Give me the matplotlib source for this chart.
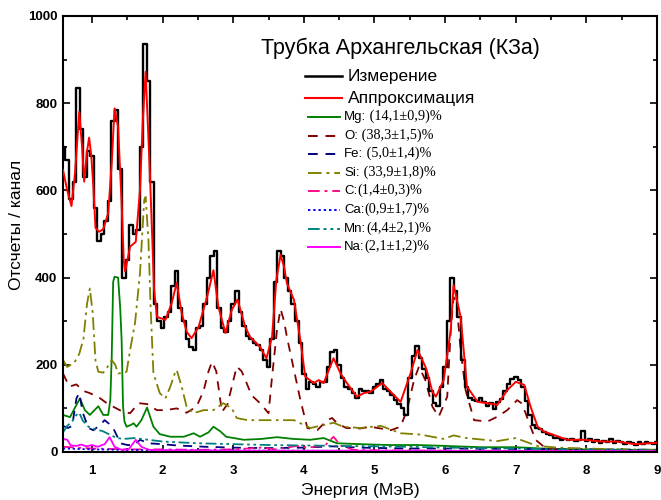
import numpy as np
import matplotlib
matplotlib.use('Agg')
import matplotlib.pyplot as plt
from matplotlib.lines import Line2D
from matplotlib.ticker import MultipleLocator

# ---------------- data ----------------
meas_start = 0.60
meas_step = 0.05
meas_counts = [
    700, 670, 580, 620, 835, 740, 630, 690, 680, 560,
    485, 500, 530, 575, 760, 785, 650, 400, 440, 520,
    500, 510, 700, 935, 850, 620, 340, 300, 285, 310,
    320, 380, 415, 330, 300, 260, 240, 235, 285, 290,
    340, 400, 450, 462, 330, 285, 275, 300, 340, 370,
    320, 290, 265, 260, 250, 245, 235, 210, 195, 260,
    390, 460, 450, 400, 370, 340, 300, 250, 180, 145,
    160, 155, 150, 160, 160, 195, 230, 235, 200, 170,
    150, 145, 135, 125, 145, 140, 140, 135, 150, 155,
    165, 145, 140, 130, 120, 110, 100, 85, 170, 220,
    242, 215, 190, 170, 140, 112, 105, 150, 195, 300,
    400, 370, 310, 210, 150, 125, 120, 118, 125, 115,
    105, 112, 98, 115, 122, 140, 155, 168, 172, 165,
    150, 118, 85, 62, 55, 52, 46, 42, 38, 33,
    32, 28, 30, 27, 30, 26, 28, 48, 25, 30,
    22, 28, 20, 26, 22, 30, 20, 25, 22, 18,
    24, 20, 17, 22, 19, 23, 20, 18, 22,
]

fit_E = [0.59, 0.65, 0.71, 0.76, 0.82, 0.86, 0.89, 0.93, 0.96, 0.99, 1.02, 1.05, 1.10,
         1.16, 1.23, 1.28, 1.32, 1.37, 1.42, 1.45, 1.47, 1.54, 1.62, 1.68, 1.72, 1.76,
         1.82, 1.88, 1.92, 2.04, 2.13, 2.20, 2.27, 2.34, 2.41, 2.51, 2.63, 2.72, 2.79,
         2.89, 2.98, 3.06, 3.17, 3.24, 3.38, 3.47, 3.55, 3.61, 3.67, 3.72, 3.76, 3.86,
         3.95, 4.02, 4.14, 4.21, 4.28, 4.42, 4.52, 4.61, 4.75, 4.85, 4.94, 5.11, 5.23,
         5.37, 5.51, 5.61, 5.72, 5.75, 5.82, 5.87, 5.98, 6.08, 6.12, 6.22, 6.31, 6.46,
         6.60, 6.74, 6.88, 7.00, 7.12, 7.21, 7.31, 7.40, 7.54, 7.73, 7.97, 8.21, 8.44,
         8.68, 8.99]
fit_counts = [647, 600, 564, 640, 780, 700, 620, 690, 721, 680, 608, 514, 505,
              511, 548, 663, 788, 746, 571, 440, 414, 471, 482, 601, 760, 872,
              640, 372, 310, 303, 342, 388, 319, 276, 261, 287, 356, 417, 333,
              273, 326, 350, 287, 264, 241, 215, 264, 394, 452, 425, 387, 349,
              257, 173, 158, 165, 158, 215, 180, 158, 127, 135, 138, 158, 138,
              115, 180, 234, 196, 181, 138, 127, 165, 280, 383, 310, 150, 115,
              112, 108, 142, 161, 154, 104, 58, 47, 39, 28, 28, 24, 24,
              18, 21]

mg_E = [0.59, 0.69, 0.78, 0.83, 0.90, 0.97, 1.03, 1.09, 1.16, 1.23, 1.26, 1.28, 1.30,
        1.32, 1.37, 1.40, 1.42, 1.44, 1.46, 1.49, 1.55, 1.59, 1.63, 1.70, 1.78, 1.87,
        1.96, 2.11, 2.30, 2.44, 2.53, 2.65, 2.72, 2.82, 2.90, 3.15, 3.40, 3.62, 3.85,
        4.09, 4.28, 4.47, 4.80, 5.20, 5.60, 6.00, 6.50, 7.00, 7.50, 8.00, 8.50, 9.00]
mg_counts = [85, 80, 108, 123, 96, 85, 95, 105, 85, 85, 120, 220, 390,
             402, 400, 330, 257, 104, 70, 58, 62, 66, 58, 73, 102, 58,
             41, 35, 35, 43, 35, 45, 58, 47, 35, 28, 30, 34, 30,
             28, 32, 20, 18, 16, 16, 14, 11, 11, 7, 6, 5, 5]

o_E = [0.59, 0.68, 0.78, 0.88, 0.97, 1.10, 1.21, 1.30, 1.44, 1.54, 1.66, 1.78, 1.92,
       2.04, 2.20, 2.34, 2.48, 2.58, 2.65, 2.70, 2.76, 2.84, 2.92, 2.98, 3.05, 3.12,
       3.19, 3.26, 3.38, 3.50, 3.55, 3.62, 3.67, 3.72, 3.76, 3.88, 3.95, 4.05, 4.19,
       4.33, 4.40, 4.47, 4.60, 4.80, 4.94, 5.23, 5.37, 5.46, 5.56, 5.63, 5.72, 5.82,
       5.91, 6.03, 6.08, 6.12, 6.16, 6.22, 6.29, 6.41, 6.60, 6.74, 6.88, 7.02, 7.08,
       7.14, 7.21, 7.28, 7.40, 7.60, 8.00, 9.00]
o_counts = [180, 150, 155, 140, 135, 125, 112, 104, 92, 89, 112, 110, 96,
            96, 100, 90, 104, 140, 185, 207, 185, 92, 110, 150, 196, 185,
            158, 130, 112, 89, 173, 280, 328, 300, 264, 173, 120, 55, 50,
            73, 78, 66, 55, 54, 58, 50, 58, 96, 165, 196, 165, 104,
            81, 127, 280, 355, 345, 234, 142, 73, 70, 81, 96, 119, 112,
            89, 58, 28, 12, 5, 3, 2]

fe_E = [0.59, 0.66, 0.72, 0.78, 0.82, 0.87, 0.95, 1.02, 1.10, 1.18, 1.24, 1.30, 1.36,
        1.40, 1.50, 1.60, 1.68, 1.80, 2.00, 2.20, 2.60, 3.00, 3.50, 4.00, 4.40, 4.80,
        5.50, 6.00, 7.00, 8.00, 9.00]
fe_counts = [60, 55, 60, 123, 135, 90, 55, 50, 60, 73, 65, 55, 35,
             20, 16, 16, 28, 20, 18, 15, 12, 10, 9, 10, 13, 10,
             8, 8, 7, 6, 5]

si_E = [0.59, 0.65, 0.75, 0.82, 0.88, 0.93, 0.97, 1.01, 1.05, 1.09, 1.16, 1.22, 1.28,
        1.33, 1.37, 1.45, 1.49, 1.54, 1.61, 1.68, 1.74, 1.76, 1.80, 1.83, 1.87, 1.96,
        2.04, 2.11, 2.18, 2.20, 2.27, 2.34, 2.44, 2.58, 2.72, 2.86, 2.98, 3.05, 3.20,
        3.50, 3.86, 4.09, 4.42, 4.56, 4.80, 5.09, 5.37, 5.65, 5.98, 6.12, 6.30, 6.74,
        7.00, 7.30, 7.60, 8.00, 8.50, 9.00]
si_counts = [211, 195, 205, 225, 260, 340, 375, 320, 210, 184, 182, 195, 211,
             200, 180, 182, 184, 234, 296, 410, 578, 585, 486, 333, 181, 135,
             123, 150, 184, 188, 150, 104, 89, 96, 96, 112, 100, 78, 73,
             73, 73, 55, 67, 58, 55, 60, 43, 40, 30, 38, 32, 25,
             32, 14, 10, 8, 6, 5]

c_E = [0.59, 0.80, 1.00, 1.50, 2.00, 2.50, 3.00, 3.40, 3.60, 3.90, 4.05, 4.30, 4.42,
       4.52, 4.70, 5.00, 6.00, 9.00]
c_counts = [12, 10, 8, 6, 6, 5, 6, 10, 6, 14, 10, 15, 35,
            15, 5, 4, 3, 2]

ca_E = [0.59, 1.00, 2.00, 4.00, 6.00, 9.00]
ca_counts = [8, 6, 4, 3, 2, 2]

mn_E = [0.59, 0.65, 0.72, 0.78, 0.82, 0.87, 0.95, 1.05, 1.15, 1.25, 1.35, 1.45, 1.60,
        1.80, 2.00, 2.50, 3.00, 3.50, 4.00, 4.50, 5.00, 5.50, 6.00, 6.50, 7.00, 7.50,
        8.00, 9.00]
mn_counts = [45, 60, 70, 85, 90, 72, 58, 52, 48, 40, 32, 30, 32,
             28, 24, 20, 18, 16, 15, 14, 13, 12, 10, 9, 8, 6,
             5, 4]

na_E = [0.59, 0.65, 0.70, 0.78, 0.85, 0.92, 1.00, 1.08, 1.18, 1.25, 1.32, 1.42, 1.52,
        1.62, 1.70, 1.80, 2.00, 3.00, 5.00, 9.00]
na_counts = [30, 28, 15, 14, 17, 13, 16, 12, 18, 34, 12, 5, 6,
             28, 12, 5, 4, 3, 3, 2]

title_text = 'Трубка Архангельская (КЗа)'
main_labels = ['Измерение', 'Аппроксимация']
element_symbols = ['Mg:', 'O:', 'Fe:', 'Si:', 'C:', 'Ca:', 'Mn:', 'Na:']
element_fracs = [' (14,1±0,9)%', ' (38,3±1,5)%', ' (5,0±1,4)%', ' (33,9±1,8)%',
                 '(1,4±0,3)%', '(0,9±1,7)%', '(4,4±2,1)%', '(2,1±1,2)%']
xlabel = 'Энергия (МэВ)'
ylabel = 'Отсчеты / канал'

# ---------------- styles ----------------
comp_styles = [
    dict(color='#008000', dashes=None),
    dict(color='#800000', dashes=(5, 4)),
    dict(color='#000080', dashes=(5, 4)),
    dict(color='#808000', dashes=(7, 2.5, 1.5, 2.5)),
    dict(color='#FF0A85', dashes=(6, 2.5, 1.5, 2.5)),
    dict(color='#0000FF', dashes=(1.2, 1.5)),
    dict(color='#008080', dashes=(6, 2, 1.5, 2, 1.5, 2)),
    dict(color='#FF00FF', dashes=None),
]
comp_data = [(mg_E, mg_counts), (o_E, o_counts), (fe_E, fe_counts), (si_E, si_counts),
             (c_E, c_counts), (ca_E, ca_counts), (mn_E, mn_counts), (na_E, na_counts)]

W, H = 661, 500
fig = plt.figure(figsize=(W / 100, H / 100), dpi=100)
ax_l, ax_r, ax_t, ax_b = 63, 657, 16, 452
ax = fig.add_axes([ax_l / W, 1 - ax_b / H, (ax_r - ax_l) / W, (ax_b - ax_t) / H])

meas_E = meas_start + meas_step * np.arange(len(meas_counts))
ax.step(meas_E, meas_counts, where='mid', color='black', lw=1.7, zorder=3)
ax.plot(fit_E, fit_counts, color='#FF0000', lw=1.4, zorder=4)
for (e, c), st in zip(comp_data, comp_styles):
    ln, = ax.plot(e, c, color=st['color'], lw=1.3, zorder=2)
    if st['dashes'] is not None:
        ln.set_dashes(st['dashes'])

ax.set_xlim(0.59, 9.0)
ax.set_ylim(0, 1000)
ax.xaxis.set_major_locator(MultipleLocator(1))
ax.xaxis.set_minor_locator(MultipleLocator(0.5))
ax.yaxis.set_major_locator(MultipleLocator(200))
ax.yaxis.set_minor_locator(MultipleLocator(100))
ax.tick_params(which='both', direction='in', top=True, right=True, width=1.2)
ax.tick_params(which='major', length=5)
ax.tick_params(which='minor', length=3)
ax.tick_params(axis='x', pad=9)
ax.tick_params(axis='y', pad=4)
for lab in ax.get_xticklabels() + ax.get_yticklabels():
    lab.set_fontfamily('Liberation Sans')
    lab.set_fontweight('bold')
    lab.set_fontsize(9.5)
for s in ax.spines.values():
    s.set_linewidth(1.5)

fig.text(360 / W, 1 - 490 / H, xlabel, ha='center', va='center',
         fontfamily='Liberation Sans', fontsize=12.5)
fig.text(17 / W, 1 - 225 / H, ylabel, ha='center', va='center', rotation=90,
         fontfamily='Liberation Sans', fontsize=12.5)

def afx(px):
    return (px - ax_l) / (ax_r - ax_l)

def afy(py):
    return (ax_b - py) / (ax_b - ax_t)

ax.text(afx(400), afy(48), title_text, transform=ax.transAxes, ha='center', va='center',
        fontfamily='Liberation Sans', fontsize=15.5)

# legend (drawn manually)
main_rows = [76, 98]
main_colors = ['black', '#FF0000']
main_lw = [1.8, 1.5]
for y, lab, col, lw in zip(main_rows, main_labels, main_colors, main_lw):
    ax.add_line(Line2D([afx(305), afx(342)], [afy(y), afy(y)], color=col, lw=lw,
                       transform=ax.transAxes))
    ax.text(afx(348), afy(y), lab, transform=ax.transAxes, ha='left', va='center',
            fontfamily='Liberation Sans', fontsize=12.5)

el_rows = [117, 136, 154, 173, 191, 210, 229, 247]
for y, sym, frac, st in zip(el_rows, element_symbols, element_fracs, comp_styles):
    ln = Line2D([afx(308), afx(340)], [afy(y), afy(y)], color=st['color'], lw=1.4,
                transform=ax.transAxes)
    if st['dashes'] is not None:
        ln.set_dashes(st['dashes'])
    ax.add_line(ln)
    t1 = ax.text(afx(344), afy(y), sym, transform=ax.transAxes, ha='left', va='center',
                 fontfamily='Liberation Sans', fontsize=9.5)
    ax.annotate(frac, xy=(1, 0), xycoords=t1, ha='left', va='bottom',
                fontfamily='Liberation Serif', fontsize=10.3)

fig.savefig('out.png', dpi=100)
